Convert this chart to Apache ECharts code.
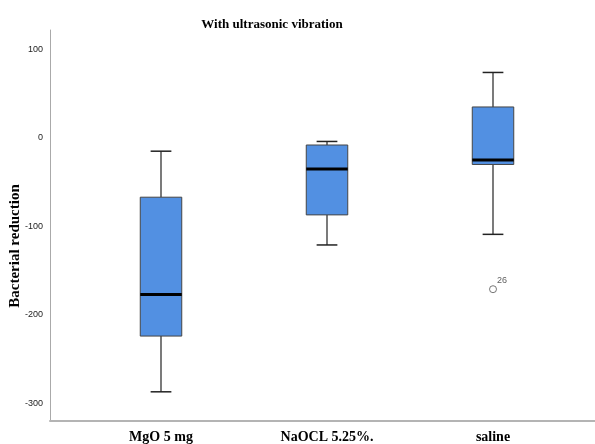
<!DOCTYPE html>
<html>
<head>
<meta charset="utf-8">
<script src="https://cdn.jsdelivr.net/npm/echarts@6/dist/echarts.min.js"></script>
<style>html,body{margin:0;padding:0;background:#fff}#c{width:595px;height:444px}</style>
</head>
<body>
<div id="c"></div>
<script>
// ---- data ----
const categories = ['MgO 5 mg', 'NaOCL 5.25%.', 'saline'];
const mins    = [-287, -121, -109];
const q1s     = [-224,  -87,  -30];
const medians = [-177,  -35,  -25];
const q3s     = [ -67,   -8,   35];
const maxs    = [ -15,   -4,   74];
const outlierCategory = [2];
const outlierValues = [-171];
const outlierIds = ['26'];
const yTickValues = [-300, -200, -100, 0, 100];
const yMin = -320, yMax = 122;

const boxData = categories.map((c, i) => [i, mins[i], q1s[i], medians[i], q3s[i], maxs[i]]);
const outlierData = outlierValues.map((v, i) => ({ value: [outlierCategory[i], v], name: outlierIds[i] }));

const chart = echarts.init(document.getElementById('c'), null, { renderer: 'canvas' });
const serif = '"Liberation Serif", "DejaVu Serif", serif';

chart.setOption({
  backgroundColor: '#ffffff',
  animation: false,
  title: {
    text: 'With ultrasonic vibration',
    left: 267, top: 13, textAlign: 'center',
    textStyle: { fontFamily: serif, fontWeight: 'bold', fontSize: 13, color: '#000' }
  },
  grid: [
    { left: 50, right: 0, top: 30, bottom: 23, containLabel: false, outerBoundsMode: 'none' },
    { left: 78, right: 19, top: 30, bottom: 23, containLabel: false, outerBoundsMode: 'none' }
  ],
  xAxis: [
    { gridIndex: 0, type: 'value', min: 0, max: 1, axisLine: { show: true, onZero: false, lineStyle: { color: '#b4b4b4', width: 2 } },
      axisTick: { show: false }, axisLabel: { show: false }, splitLine: { show: false } },
    { gridIndex: 1, type: 'category', data: categories, axisLine: { show: false }, axisTick: { show: false },
      splitLine: { show: false },
      axisLabel: { margin: 9, fontFamily: serif, fontWeight: 'bold', fontSize: 14, color: '#000' } }
  ],
  yAxis: [
    { gridIndex: 0, type: 'value', min: yMin, max: yMax,
      axisLine: { show: true, lineStyle: { color: '#aaaaaa', width: 1 } },
      axisTick: { show: false }, splitLine: { show: false },
      axisLabel: { customValues: yTickValues, margin: 7, fontFamily: '"Liberation Sans", Arial, sans-serif', fontSize: 9, color: '#222' },
      name: 'Bacterial reduction', nameLocation: 'middle', nameGap: 27, nameRotate: 90, nameMoveOverlap: false,
      nameTextStyle: { fontFamily: serif, fontWeight: 'bold', fontSize: 15, color: '#000', padding: [0, 41, 0, 0] } },
    { gridIndex: 1, type: 'value', min: yMin, max: yMax, show: false, splitLine: { show: false } }
  ],
  series: [
    {
      type: 'custom',
      xAxisIndex: 1, yAxisIndex: 1,
      data: boxData,
      encode: { x: 0, y: [1, 2, 3, 4, 5] },
      renderItem: function (params, api) {
        const x = api.value(0);
        const pMin = api.coord([x, api.value(1)]);
        const pQ1 = api.coord([x, api.value(2)]);
        const pMed = api.coord([x, api.value(3)]);
        const pQ3 = api.coord([x, api.value(4)]);
        const pMax = api.coord([x, api.value(5)]);
        const band = api.size([1, 0])[0];
        const bw = band * 0.25;
        const cw = bw * 0.5;
        const cx = pMed[0];
        const wStyle = { stroke: '#222', lineWidth: 1.2 };
        return {
          type: 'group',
          children: [
            { type: 'line', shape: { x1: cx, y1: pQ3[1], x2: cx, y2: pMax[1] }, style: wStyle },
            { type: 'line', shape: { x1: cx, y1: pQ1[1], x2: cx, y2: pMin[1] }, style: wStyle },
            { type: 'line', shape: { x1: cx - cw / 2, y1: pMax[1], x2: cx + cw / 2, y2: pMax[1] }, style: { stroke: '#222', lineWidth: 1.5 } },
            { type: 'line', shape: { x1: cx - cw / 2, y1: pMin[1], x2: cx + cw / 2, y2: pMin[1] }, style: { stroke: '#222', lineWidth: 1.5 } },
            { type: 'rect', shape: { x: cx - bw / 2, y: pQ3[1], width: bw, height: pQ1[1] - pQ3[1] },
              style: { fill: '#5290e2', stroke: '#444', lineWidth: 1 } },
            { type: 'line', shape: { x1: cx - bw / 2, y1: pMed[1], x2: cx + bw / 2, y2: pMed[1] }, style: { stroke: '#000', lineWidth: 3 } }
          ]
        };
      }
    },
    {
      type: 'scatter',
      xAxisIndex: 1, yAxisIndex: 1,
      data: outlierData,
      symbol: 'circle', symbolSize: 7,
      itemStyle: { color: '#fff', borderColor: '#555', borderWidth: 1 },
      label: { show: true, formatter: p => p.name, position: [8, -9], fontFamily: '"Liberation Sans", Arial, sans-serif', fontSize: 9, color: '#333' }
    }
  ]
});
</script>
</body>
</html>
